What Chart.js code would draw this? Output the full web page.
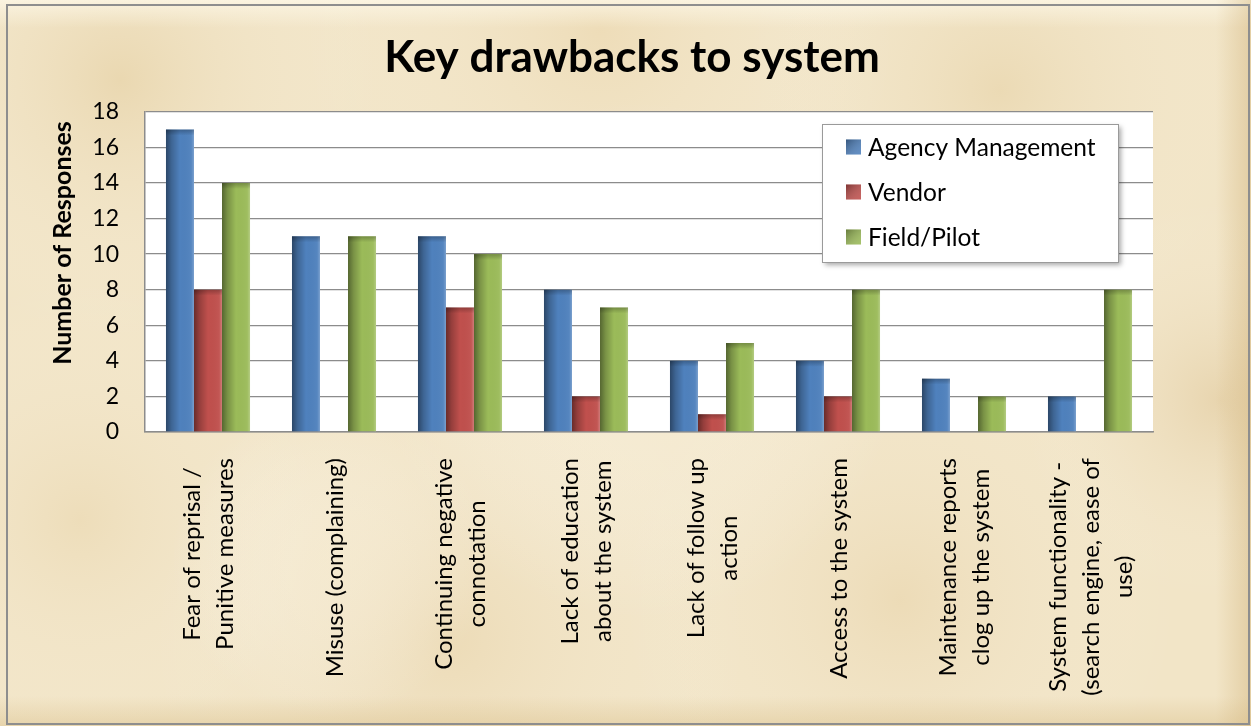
<!DOCTYPE html>
<html><head><meta charset="utf-8">
<script src="https://cdn.jsdelivr.net/npm/chart.js@4.4.1/dist/chart.umd.min.js"></script>
<style>html,body{margin:0;padding:0;background:#efe1bf;}canvas{display:block}</style>
</head><body>
<canvas id="c" width="1251" height="726"></canvas>
<script>
const categories = [
  ["Fear of reprisal /", "Punitive measures"],
  ["Misuse (complaining)"],
  ["Continuing negative", "connotation"],
  ["Lack of education", "about the system"],
  ["Lack of follow up", "action"],
  ["Access to the system"],
  ["Maintenance reports", "clog up the system"],
  ["System functionality -", "(search engine, ease of", "use)"]
];
const agencyManagement = [17, 11, 11, 8, 4, 4, 3, 2];
const vendor = [8, 0, 7, 2, 1, 2, 0, 0];
const fieldPilot = [14, 11, 10, 7, 5, 8, 2, 8];
const yTickValues = [0, 2, 4, 6, 8, 10, 12, 14, 16, 18];
const seriesNames = ["Agency Management", "Vendor", "Field/Pilot"];
const seriesColors = ["#4F81BD", "#C0504D", "#9BBB59"];
const chartTitle = "Key drawbacks to system";
const yAxisTitle = "Number of Responses";

const FONT = "Lato, 'Open Sans', sans-serif";

const bgPlugin = {
  id: 'parchment',
  beforeDraw(chart) {
    const ctx = chart.ctx, W = chart.width, H = chart.height;
    ctx.save();
    ctx.fillStyle = '#f2e5c7';
    ctx.fillRect(0, 0, W, H);
    const spots = [[120,80,260,'rgba(215,185,125,0.30)'],[600,30,300,'rgba(225,195,140,0.25)'],[1000,90,260,'rgba(215,185,125,0.25)'],
      [80,520,240,'rgba(225,200,150,0.28)'],[450,640,300,'rgba(220,190,135,0.25)'],[900,600,280,'rgba(220,190,135,0.25)'],
      [1220,400,200,'rgba(205,170,110,0.28)'],[640,360,260,'rgba(250,242,222,0.45)'],[330,560,160,'rgba(250,242,222,0.4)']];
    spots.forEach(([x,y,r,c]) => {
      const g = ctx.createRadialGradient(x,y,0,x,y,r);
      g.addColorStop(0,c); g.addColorStop(1,'rgba(255,255,255,0)');
      ctx.fillStyle = g; ctx.fillRect(0,0,W,H);
    });
    let g = ctx.createLinearGradient(0,0,0,28);
    g.addColorStop(0,'rgba(255,250,235,0.7)'); g.addColorStop(1,'rgba(255,250,235,0)');
    ctx.fillStyle = g; ctx.fillRect(0,0,W,28);
    g = ctx.createLinearGradient(W-35,0,W,0);
    g.addColorStop(0,'rgba(200,165,100,0)'); g.addColorStop(1,'rgba(200,165,100,0.35)');
    ctx.fillStyle = g; ctx.fillRect(W-35,0,35,H);
    g = ctx.createLinearGradient(0,H-30,0,H);
    g.addColorStop(0,'rgba(210,180,120,0)'); g.addColorStop(1,'rgba(210,180,120,0.35)');
    ctx.fillStyle = g; ctx.fillRect(0,H-30,W,30);
    ctx.strokeStyle = '#8e8e8e'; ctx.lineWidth = 2;
    ctx.strokeRect(7, 5, W - 9, H - 7);
    const a = chart.chartArea;
    ctx.fillStyle = '#ffffff';
    ctx.fillRect(a.left, a.top, a.right - a.left, a.bottom - a.top);
    ctx.restore();
  }
};

const shadePlugin = {
  id: 'barShade',
  afterDatasetsDraw(chart) {
    const ctx = chart.ctx;
    ctx.save();
    chart.data.datasets.forEach((ds, di) => {
      const meta = chart.getDatasetMeta(di);
      meta.data.forEach(el => {
        const p = el.getProps(['x','y','base','width'], true);
        const x0 = p.x - p.width/2, x1 = p.x + p.width/2;
        const top = Math.min(p.y, p.base), h = Math.abs(p.base - p.y);
        if (h < 0.5) return;
        const g = ctx.createLinearGradient(x0, 0, x1, 0);
        g.addColorStop(0, 'rgba(0,0,0,0.45)');
        g.addColorStop(0.2, 'rgba(0,0,0,0.22)');
        g.addColorStop(0.5, 'rgba(0,0,0,0)');
        g.addColorStop(0.9, 'rgba(255,255,255,0.04)');
        g.addColorStop(1, 'rgba(255,255,255,0.25)');
        ctx.fillStyle = g;
        ctx.fillRect(x0, top, x1 - x0, h);
        const gv = ctx.createLinearGradient(0, top, 0, top + 6);
        gv.addColorStop(0, 'rgba(0,0,0,0.25)');
        gv.addColorStop(1, 'rgba(0,0,0,0)');
        ctx.fillStyle = gv;
        ctx.fillRect(x0, top, x1 - x0, Math.min(6, h));
      });
    });
    ctx.restore();
  }
};

const textPlugin = {
  id: 'texts',
  afterDraw(chart) {
    const ctx = chart.ctx;
    const a = chart.chartArea;
    const xs = chart.scales.x;
    ctx.save();
    ctx.fillStyle = '#000';
    ctx.font = '24px ' + FONT;
    categories.forEach((lines, i) => {
      const cx = xs.getPixelForValue(i);
      const maxW = Math.max(...lines.map(l => ctx.measureText(l).width));
      const cy = a.bottom + 26 + maxW / 2;
      const n = lines.length;
      lines.forEach((l, j) => {
        ctx.save();
        ctx.translate(cx + 1 + (j - (n - 1) / 2) * 33, cy);
        ctx.rotate(-Math.PI / 2);
        ctx.textAlign = 'center'; ctx.textBaseline = 'middle';
        ctx.fillText(l, 0, 0);
        ctx.restore();
      });
    });
    ctx.font = 'bold 25px ' + FONT;
    ctx.save();
    ctx.translate(63, 243);
    ctx.rotate(-Math.PI / 2);
    ctx.textAlign = 'center'; ctx.textBaseline = 'middle';
    ctx.fillText(yAxisTitle, 0, 0);
    ctx.restore();
    const lx = 822, ly = 124, lw = 296, lh = 138;
    ctx.save();
    ctx.shadowColor = 'rgba(0,0,0,0.35)'; ctx.shadowBlur = 5; ctx.shadowOffsetX = 3; ctx.shadowOffsetY = 3;
    ctx.fillStyle = '#ffffff';
    ctx.fillRect(lx, ly, lw, lh);
    ctx.restore();
    ctx.strokeStyle = '#9a9a9a'; ctx.lineWidth = 1;
    ctx.strokeRect(lx + 0.5, ly + 0.5, lw, lh);
    ctx.font = '24.5px ' + FONT;
    ctx.textAlign = 'left'; ctx.textBaseline = 'middle';
    chart.data.datasets.forEach((ds, i) => {
      const yy = 147 + i * 45;
      ctx.fillStyle = ds.backgroundColor;
      ctx.fillRect(846, yy - 7.5, 15, 15);
      const sg = ctx.createLinearGradient(846, yy - 7.5, 861, yy + 7.5);
      sg.addColorStop(0, 'rgba(0,0,0,0.35)'); sg.addColorStop(1, 'rgba(255,255,255,0.1)');
      ctx.fillStyle = sg;
      ctx.fillRect(846, yy - 7.5, 15, 15);
      ctx.fillStyle = '#000';
      ctx.fillText(ds.label, 868, yy + 1);
    });
    ctx.restore();
  }
};

new Chart(document.getElementById('c'), {
  type: 'bar',
  data: {
    labels: categories,
    datasets: [
      { label: seriesNames[0], data: agencyManagement, backgroundColor: seriesColors[0] },
      { label: seriesNames[1], data: vendor, backgroundColor: seriesColors[1] },
      { label: seriesNames[2], data: fieldPilot, backgroundColor: seriesColors[2] }
    ]
  },
  options: {
    responsive: false,
    animation: false,
    devicePixelRatio: 1,
    datasets: { bar: { categoryPercentage: 0.667, barPercentage: 1.0, borderWidth: 0 } },
    layout: { padding: { left: 13, right: 0, top: 0, bottom: 4 } },
    plugins: {
      legend: { display: false },
      tooltip: { enabled: false },
      title: {
        display: true, text: chartTitle, color: '#000',
        font: { family: FONT, size: 44, weight: 'bold', lineHeight: 1.2 },
        padding: { top: 31, bottom: 28 }
      }
    },
    scales: {
      x: {
        grid: { display: false },
        border: { display: true, color: '#8c8c8c', width: 1.5 },
        ticks: { display: false },
        afterFit: s => { s.height = 290; }
      },
      y: {
        min: 0, max: 18,
        afterBuildTicks: s => { s.ticks = yTickValues.map(v => ({ value: v })); },
        grid: { color: '#8c8c8c', lineWidth: 1.3, drawTicks: false },
        border: { display: true, color: '#8c8c8c', width: 1.5 },
        ticks: { color: '#000', padding: 26, font: { family: FONT, size: 23 } },
        afterFit: s => { s.width = 132; }
      },
      yRight: {
        position: 'right', min: 0, max: 18,
        grid: { display: false, drawTicks: false },
        border: { display: false },
        ticks: { display: false },
        afterFit: s => { s.width = 98; }
      }
    }
  },
  plugins: [bgPlugin, shadePlugin, textPlugin]
});
</script>
</body></html>
